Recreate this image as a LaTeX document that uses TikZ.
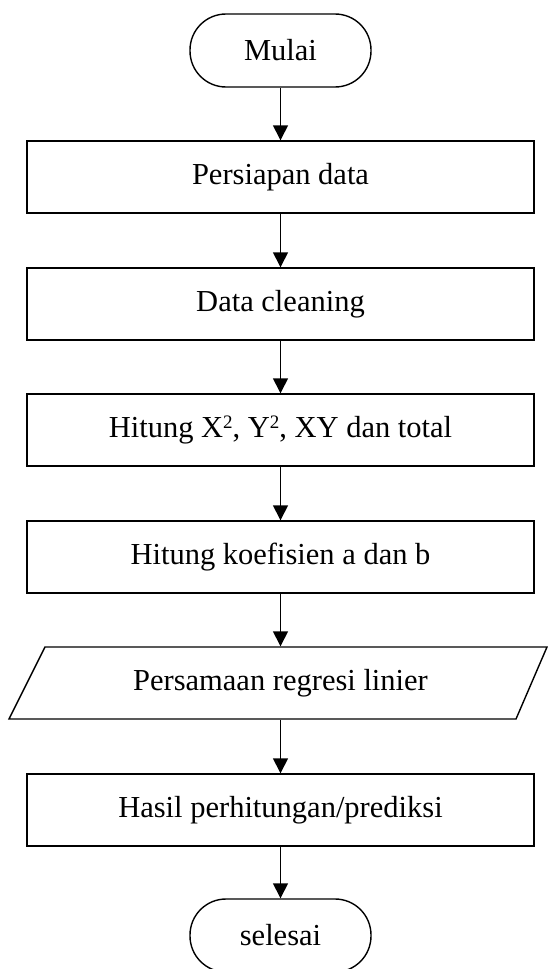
\documentclass[tikz,border=0pt]{standalone}
\usepackage{fontspec}
\setmainfont{Liberation Serif}
\usetikzlibrary{arrows.meta}

\tikzset{every picture/.style={line width=1.4pt}}

\begin{document}
\begin{tikzpicture}[x=1pt,y=1pt,yscale=-1,
  terminator/.style={draw, rounded corners=36pt, minimum width=181pt, minimum height=73pt, inner sep=0pt, font=\fontsize{30.5}{34}\selectfont},
  prosesbox/.style={draw, minimum width=507pt, minimum height=72pt, inner sep=0pt, font=\fontsize{30.5}{34}\selectfont},
  iobox/.style={minimum width=470pt, minimum height=72pt, inner sep=0pt, font=\fontsize{30.5}{34}\selectfont},
  panah/.style={-{Triangle[length=15pt,width=15pt]}}]
\useasboundingbox (0,0) rectangle (548,969);

% Terminator: mulai
\node [terminator] (mulai) at (280.5,50.5) {Mulai};
% Proses
\node [prosesbox] (persiapan) at (280.5,177) {Persiapan data};
\node [prosesbox] (cleaning) at (280.5,304) {Data cleaning};
\node [prosesbox] (hitungxy) at (280.5,430) {Hitung X\raisebox{9pt}{\fontsize{19}{20}\selectfont 2}, Y\raisebox{9pt}{\fontsize{19}{20}\selectfont 2}, XY dan total};
\node [prosesbox] (koefisien) at (280.5,557) {Hitung koefisien a dan b};
% Input/output: parallelogram
\draw (45,647) -- (547,647) -- (516,719) -- (9,719) -- cycle ;
\node [iobox] (regresi) at (280.5,683) {Persamaan regresi linier};
\node [prosesbox] (hasil) at (280.5,810) {Hasil perhitungan/prediksi};
% Terminator: selesai
\node [terminator] (selesai) at (280.5,935.5) {selesai};

% Arrows
\draw [panah] (mulai) -- (persiapan);
\draw [panah] (persiapan) -- (cleaning);
\draw [panah] (cleaning) -- (hitungxy);
\draw [panah] (hitungxy) -- (koefisien);
\draw [panah] (koefisien) -- (regresi);
\draw [panah] (regresi) -- (hasil);
\draw [panah] (hasil) -- (selesai);

\end{tikzpicture}
\end{document}
